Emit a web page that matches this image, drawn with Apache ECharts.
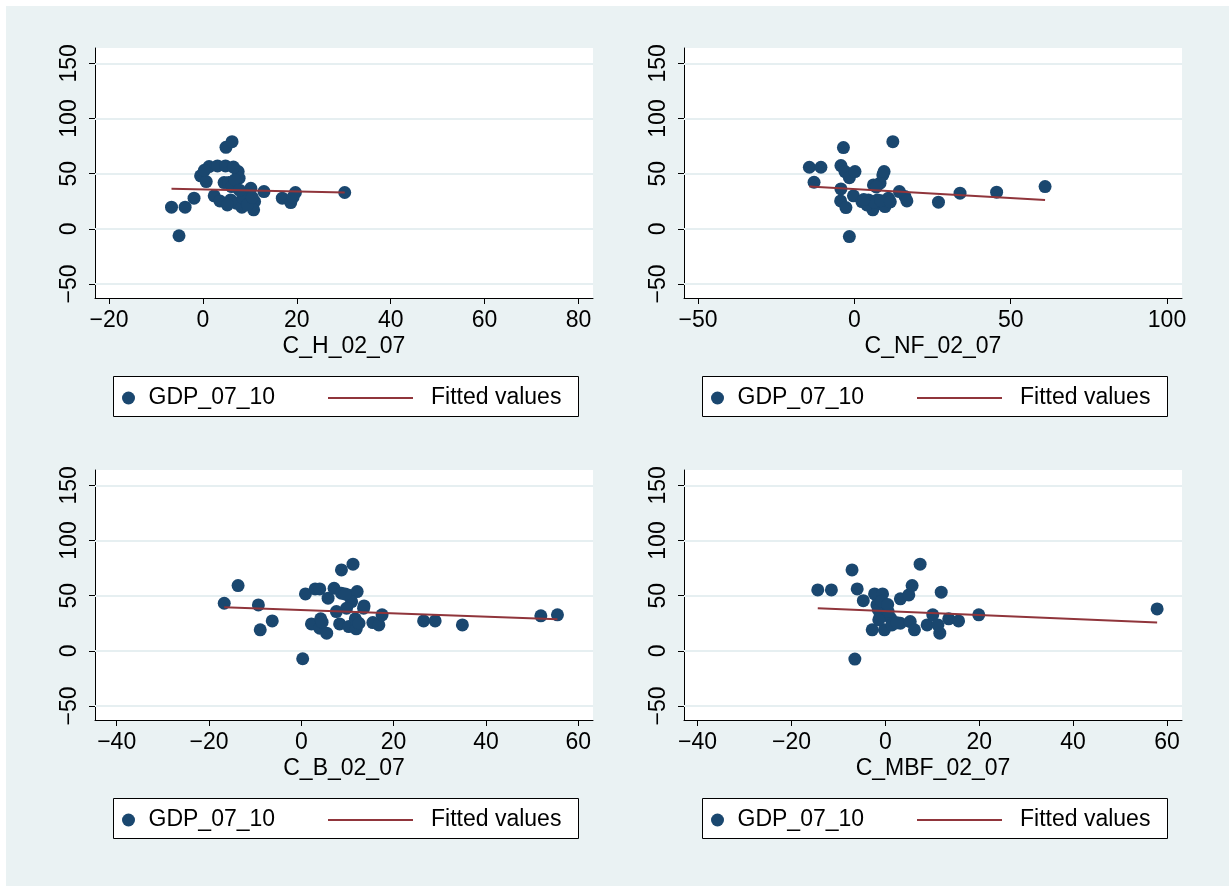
<!DOCTYPE html>
<html>
<head>
<meta charset="utf-8">
<script src="https://cdn.jsdelivr.net/npm/echarts@6/dist/echarts.min.js"></script>
<style>
    html, body { margin: 0; padding: 0; background: #fff; }
    .bg { position: absolute; left: 6px; top: 6px; right: 0; bottom: 0; background: #eaf2f3; }
    #chart { position: absolute; left: 0; top: 0; width: 1229px; height: 886px; }
</style>
</head>
<body>
<div class="bg"></div>
<div id="chart"></div>
<script>
// GDP_07_10 against C_H_02_07
const hX = [-6.7, -5.1, -3.8, -1.9, -0.5, 0.7, 1.3, 0.3, 3.1, 4.8, 4.9, 6.2, 2.4, 3.6, 4.5, 5.5, 7.5, 7.7, 6.1, 5.9,
    7.1, 8.3, 9.1, 10.2, 11, 10.8, 9.9, 13, 16.9, 18.7, 19.7, 19.2, 30.2, 6.8, 5.2, 8.5, 7.8, 9.5, 10.5, 6.5];
const hY = [19.6, -6.3, 19.6, 27.8, 48, 42.8, 56.4, 53, 57, 57, 73.9, 79, 29.9, 25.3, 41.9, 41.9, 51.9, 45.9, 38.3, 26.2,
    23.2, 19.6, 26.2, 36.8, 24.7, 17.2, 30.8, 33.8, 27.8, 23.8, 32.9, 28.7, 32.9, 44.3, 21.7, 28, 35, 22, 28.5, 56];
const hFitX = [-6.7, 30.2];
const hFitY = [36.4, 33.0];

// GDP_07_10 against C_NF_02_07
const nfX = [-14.4, -10.7, -12.9, -3.5, -4.3, -3, -1.6, 0.2, -4.3, -4.4, -2.7, -1.6, -0.3, 2.4, 4.5, 5.9, 6.1, 8.2, 9.1, 9.5,
    12.3, 7.4, 9.3, 9.8, 10.9, 14.4, 16.2, 16.8, 26.9, 33.8, 45.5, 61, 4, 6.5, 8.5, 11.5, 7, 3];
const nfY = [55.8, 55.8, 42.2, 73.6, 57.3, 51.9, 46.4, 51.9, 36.2, 25.3, 19.3, -7, 29.9, 24.7, 26.2, 17.2, 39.8, 41.4, 48.9, 51.9,
    79, 26.2, 21.7, 20.2, 27.8, 33.8, 29.3, 25.3, 24.2, 32.3, 33.2, 38.3, 21.7, 24, 25.5, 24.5, 38, 26.5];
const nfFitX = [-14.4, 61];
const nfFitY = [38.4, 26.2];

// GDP_07_10 against C_B_02_07
const bX = [-16.7, -13.7, -9.3, -8.9, -6.3, 0.3, 0.9, 3, 4, 2.2, 4.2, 4, 5.5, 5.8, 7.1, 8.7, 11.2, 8.7, 10.1, 12.1,
    10.9, 9.8, 7.6, 8.3, 10.3, 11.9, 11.7, 12.5, 13.6, 13.5, 15.5, 16.8, 17.5, 26.5, 29, 34.9, 51.9, 55.5, 4.5, 9.5];
const bY = [43.1, 59.1, 41.6, 19, 27.1, -7.2, 51.6, 56.1, 56.1, 24.4, 29, 20.5, 16, 47.7, 56.7, 73.3, 78.5, 52.2, 50.7, 53.7,
    44.6, 38.6, 35.6, 24.4, 22, 19.9, 29, 25, 40.7, 38.6, 25.6, 23.5, 32.6, 27.1, 27.1, 23.5, 31.7, 32.6, 26, 51.5];
const bFitX = [-16.7, 55.5];
const bFitY = [39.5, 28.7];

// GDP_07_10 against C_MBF_02_07
const mbfX = [-14.4, -11.5, -7.1, -6, -4.7, -6.5, -2.3, -0.6, -1.8, 0, -2.8, -0.2, -1.1, 1.1, 1.4, 3.2, 5, 5.7, 7.4, 3.2,
    5.3, 6.2, 8.9, 10.1, 11.6, 11.9, 11.2, 13.5, 15.6, 19.9, 57.9, -1.5, 0.6, -1.4, -0.8, 2.5, 0.5];
const mbfY = [55.2, 55.2, 73.3, 56.1, 45.5, -7.5, 51.6, 51.6, 41.6, 40.1, 19, 19, 31, 29.6, 23.5, 47.1, 50.7, 59.1, 78.5, 25,
    26.5, 19, 23.5, 32.6, 16, 53.2, 23.5, 29, 27.1, 32.6, 38, 37, 35.6, 28.1, 45, 25.5, 42];
const mbfFitX = [-14.4, 57.9];
const mbfFitY = [38.6, 25.6];

const yTicks = [-50, 0, 50, 100, 150];
const xTicksH = [-20, 0, 20, 40, 60, 80];
const xTicksNF = [-50, 0, 50, 100];
const xTicksB = [-40, -20, 0, 20, 40, 60];
const xTicksMBF = [-40, -20, 0, 20, 40, 60];

const FONT = 'Liberation Sans, Arial, sans-serif';
const NAVY = '#1a476f';
const MAROON = '#90353b';
const minus = v => String(v).replace('-', '\u2212');
const zip = (a, b) => a.map((v, i) => [v, b[i]]);

let chart = echarts.init(document.getElementById('chart'));

let grids = [], xAxes = [], yAxes = [], series = [], legends = [], boxes = [];

function panel(i, left, top, name, xs, ys, fitX, fitY, xTicks, xMin, xMax) {
    grids.push({ left: left, top: top, width: 498, height: 250, show: true, backgroundColor: '#fff', borderWidth: 0 });
    xAxes.push({
        gridIndex: i, type: 'value', min: xMin, max: xMax,
        name: name, nameLocation: 'middle', nameGap: 37,
        nameTextStyle: { fontSize: 23, color: '#000', fontFamily: FONT },
        axisLine: { show: true, onZero: false, lineStyle: { color: '#000', width: 1 } },
        axisTick: { show: true, length: 6, lineStyle: { color: '#000' }, customValues: xTicks },
        axisLabel: { fontSize: 23, color: '#000', fontFamily: FONT, margin: 11, formatter: minus, customValues: xTicks },
        splitLine: { show: false }
    });
    yAxes.push({
        gridIndex: i, type: 'value', min: -62.7, max: 163.9,
        axisLine: { show: true, onZero: false, lineStyle: { color: '#000', width: 1 } },
        axisTick: { show: true, length: 6, lineStyle: { color: '#000' }, customValues: yTicks },
        axisLabel: { fontSize: 23, color: '#000', fontFamily: FONT, margin: 14, rotate: 90, formatter: minus, customValues: yTicks },
        splitLine: { show: false }
    });
    // horizontal gridlines, kept under the points
    series.push({
        name: 'grid' + i, type: 'line', xAxisIndex: i, yAxisIndex: i, data: [], z: 1,
        markLine: {
            silent: true, symbol: 'none', label: { show: false }, z: 1, animation: false,
            lineStyle: { color: '#e6eff1', width: 2, type: 'solid' },
            data: yTicks.map(v => ({ yAxis: v }))
        }
    });
    series.push({
        name: 'GDP_07_10', type: 'scatter', xAxisIndex: i, yAxisIndex: i,
        symbolSize: 13, itemStyle: { color: NAVY, opacity: 1 },
        data: zip(xs, ys),
        z: 3
    });
    series.push({
        name: 'Fitted values', type: 'line', xAxisIndex: i, yAxisIndex: i,
        symbol: 'none', showSymbol: false,
        lineStyle: { color: MAROON, width: 2 }, itemStyle: { color: MAROON },
        data: zip(fitX, fitY),
        z: 4
    });
    let lt = top + 328;
    boxes.push({
        type: 'rect', left: left + 18, top: lt, z: 5,
        shape: { width: 465, height: 40 },
        style: { fill: '#fff', stroke: '#000', lineWidth: 1 }
    });
    legends.push({
        data: ['GDP_07_10'], left: left + 22, top: lt + 5, z: 10,
        icon: 'circle', itemWidth: 30, itemHeight: 13, selectedMode: false,
        textStyle: { fontSize: 23, color: '#000', fontFamily: FONT, lineHeight: 24 }
    });
    legends.push({
        data: ['Fitted values'], left: left + 227, top: lt + 5, z: 10,
        itemWidth: 85, itemHeight: 12, selectedMode: false,
        itemStyle: { opacity: 0 },
        lineStyle: { color: MAROON, width: 2, opacity: 1 },
        textStyle: { fontSize: 23, color: '#000', fontFamily: FONT, lineHeight: 24, padding: [0, 0, 0, 13] }
    });
}

panel(0, 95, 48, 'C_H_02_07', hX, hY, hFitX, hFitY, xTicksH, -23, 83.1);
panel(1, 684, 48, 'C_NF_02_07', nfX, nfY, nfFitX, nfFitY, xTicksNF, -54.5, 104.8);
panel(2, 95, 470, 'C_B_02_07', bX, bY, bFitX, bFitY, xTicksB, -44.7, 63.2);
panel(3, 684, 470, 'C_MBF_02_07', mbfX, mbfY, mbfFitX, mbfFitY, xTicksMBF, -42.9, 63.2);

chart.setOption({
    animation: false,
    backgroundColor: 'transparent',
    grid: grids,
    xAxis: xAxes,
    yAxis: yAxes,
    legend: legends,
    graphic: boxes,
    series: series
});
</script>
</body>
</html>
